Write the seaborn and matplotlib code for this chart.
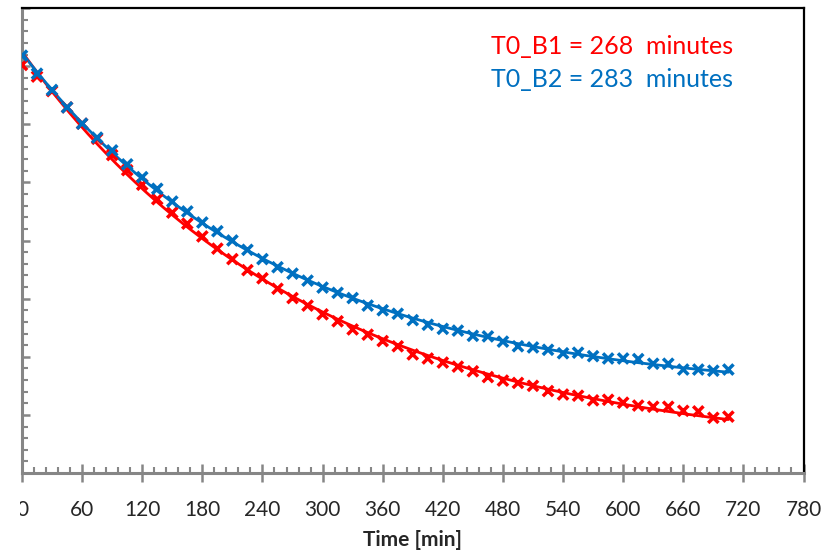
import numpy as np
import pandas as pd
import matplotlib
matplotlib.use("Agg")
import matplotlib.pyplot as plt
import seaborn as sns
from matplotlib.ticker import MultipleLocator
from matplotlib.patches import Rectangle

# ---- data ----
time_min = list(range(0, 706, 15))
b1_values = [7.02, 6.82, 6.57, 6.29, 6.01, 5.75, 5.47, 5.21, 4.96, 4.71,
             4.48, 4.29, 4.07, 3.86, 3.68, 3.49, 3.35, 3.17, 3.01, 2.88,
             2.73, 2.61, 2.47, 2.38, 2.27, 2.18, 2.04, 1.97, 1.90, 1.83,
             1.75, 1.65, 1.59, 1.55, 1.50, 1.41, 1.35, 1.33, 1.25, 1.26,
             1.21, 1.16, 1.14, 1.14, 1.07, 1.06, 0.95, 0.97]
b2_values = [7.18, 6.87, 6.59, 6.29, 6.01, 5.77, 5.55, 5.31, 5.09, 4.89,
             4.67, 4.50, 4.31, 4.16, 4.00, 3.84, 3.68, 3.54, 3.43, 3.31,
             3.19, 3.10, 3.01, 2.88, 2.80, 2.74, 2.63, 2.55, 2.48, 2.45,
             2.36, 2.35, 2.26, 2.18, 2.16, 2.12, 2.06, 2.07, 2.01, 1.97,
             1.97, 1.96, 1.88, 1.88, 1.78, 1.78, 1.76, 1.78]
series_names = ["T0_B1", "T0_B2"]
t0_minutes = [268, 283]
colors = ["#FF0000", "#0070C0"]
x_ticks = list(range(0, 781, 60))


def exp_fit(t, y):
    t = np.asarray(t, float)
    y = np.asarray(y, float)
    best = None
    for tau in np.arange(100, 900, 1.0):
        e = np.exp(-t / tau)
        A = np.column_stack([np.ones_like(t), e])
        coef, *_ = np.linalg.lstsq(A, y, rcond=None)
        res = np.sum((A @ coef - y) ** 2)
        if best is None or res < best[0]:
            best = (res, tau, coef)
    _, tau, coef = best
    tt = np.linspace(0, t.max(), 300)
    return tt, coef[0] + coef[1] * np.exp(-tt / tau)


sns.set_theme(style="white")
plt.rcParams["font.family"] = ["Lato", "DejaVu Sans"]

fig = plt.figure(figsize=(8.3, 5.5), dpi=100)
ax = fig.add_axes([22 / 830, 1 - 473 / 550, (803.5 - 22) / 830, (473 - 8) / 550])

rows = []
for name, vals in zip(series_names, [b1_values, b2_values]):
    for t, v in zip(time_min, vals):
        rows.append({"time": t, "value": v, "series": name})
df = pd.DataFrame(rows)

fit_rows = []
for name, vals in zip(series_names, [b1_values, b2_values]):
    tt, yy = exp_fit(time_min, vals)
    for a, b in zip(tt, yy):
        fit_rows.append({"time": a, "value": b, "series": name})
fit_df = pd.DataFrame(fit_rows)

pal = dict(zip(series_names, colors))
sns.lineplot(data=fit_df, x="time", y="value", hue="series", palette=pal,
             linewidth=2, legend=False, ax=ax, zorder=2)
sns.scatterplot(data=df, x="time", y="value", hue="series", palette=pal,
                marker="x", s=55, linewidth=2.5, legend=False, ax=ax, zorder=3)

ax.set_xlim(0, 780)
ax.set_ylim(0, 8.0)
ax.set_xticks(x_ticks)
ax.xaxis.set_minor_locator(MultipleLocator(12))
ax.yaxis.set_major_locator(MultipleLocator(1))
ax.yaxis.set_minor_locator(MultipleLocator(0.2))
ax.set_yticklabels([])
ax.set_ylabel("")
ax.set_xlabel("Time [min]", fontsize=15, fontweight="bold", labelpad=7)
ax.tick_params(axis="x", which="major", direction="inout", length=13, width=1.8,
               color="#868686", labelsize=15, pad=13, bottom=True)
ax.tick_params(axis="x", which="minor", direction="in", length=4, width=1.5,
               color="#868686", bottom=True)
ax.tick_params(axis="y", which="major", direction="in", length=6, width=1.8,
               color="#868686", left=True)
ax.tick_params(axis="y", which="minor", direction="in", length=4, width=1.5,
               color="#868686", left=True)

# the "0" label is cut off at the left edge in the original
first_label = ax.xaxis.get_major_ticks()[0].label1
first_label.set_x(-4)
clip = Rectangle((20 / 830, 0), 1, 1, transform=fig.transFigure, visible=False)
fig.add_artist(clip)
first_label.set_clip_path(clip)

for side in ["left", "bottom"]:
    ax.spines[side].set_color("#868686")
    ax.spines[side].set_linewidth(2.2)
for side in ["top", "right"]:
    ax.spines[side].set_color("black")
    ax.spines[side].set_linewidth(1.6)

for i, (name, t0, c) in enumerate(zip(series_names, t0_minutes, colors)):
    ax.text(0.6, 0.918 - i * 0.071, f"{name} = {t0}  minutes", color=c,
            fontsize=18, transform=ax.transAxes, va="center", ha="left")

fig.savefig("out.png", dpi=100)
